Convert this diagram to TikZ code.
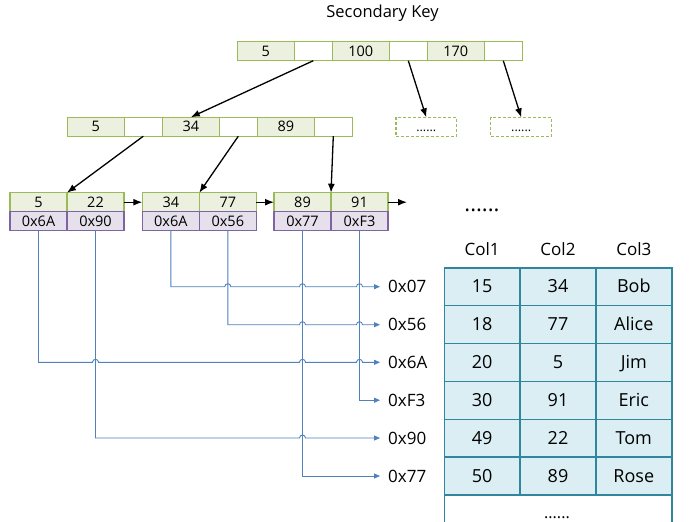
\documentclass[tikz,border=0pt]{standalone}
\usepackage{fontspec}
\setmainfont{Open Sans}
\usetikzlibrary{arrows.meta,calc}
\definecolor{kgreen}{HTML}{9BBB59}
\definecolor{kfill}{HTML}{EBF1DE}
\definecolor{ppl}{HTML}{8064A2}
\definecolor{pfill}{HTML}{E5E0EC}
\definecolor{bln}{HTML}{4F81BD}
\definecolor{tfill}{HTML}{DAEEF3}
\definecolor{tborder}{HTML}{31859C}
\newcommand{\fs}[1]{\fontsize{#1}{#1}\selectfont}
\begin{document}
\begin{tikzpicture}[x=1pt,y=1pt,
  cell/.style={draw=kgreen, line width=1.2pt, minimum height=19pt, inner sep=0pt, outer sep=0pt, anchor=west, font=\fs{14.5}},
  kcell/.style={cell, fill=kfill, minimum width=57pt},
  ecell/.style={cell, fill=white, minimum width=38pt},
  pcell/.style={cell, draw=ppl, fill=pfill, minimum width=57pt},
  dbox/.style={draw=kgreen, line width=1.1pt, densely dashed, minimum width=60.7pt, minimum height=18.7pt, inner sep=0pt, outer sep=0pt},
  tcell/.style={draw=tborder, fill=tfill, line width=1.6pt, minimum width=75.8pt, minimum height=37.9pt, inner sep=0pt, outer sep=0pt, text height=12.5pt, text depth=0pt, font=\fs{18}},
  hdr/.style={anchor=base, inner sep=0pt, font=\fs{17}},
  lab/.style={anchor=west, inner sep=0pt, font=\fs{17}},
  arr/.style={line width=1.3pt, -{Latex[length=9pt,width=7pt]}},
  bl/.style={draw=bln, line width=0.9pt, -{Triangle[length=6pt,width=5pt]}, shorten >=8pt},
]
\useasboundingbox (0,0) rectangle (691,-522);
\fill[white] (0,0) rectangle (691,-522);

% title
\node[anchor=base, inner sep=0pt, font=\fs{16.5}] (title) at (382.5,-17.3) {Secondary Key};

% root node
\node[kcell] (t1) at (237.3,-51.2) {5};
\node[ecell] (t2) at (t1.east) {};
\node[kcell] (t3) at (t2.east) {100};
\node[ecell] (t4) at (t3.east) {};
\node[kcell] (t5) at (t4.east) {170};
\node[ecell] (t6) at (t5.east) {};

% second level
\node[kcell] (m1) at (67.3,-126.7) {5};
\node[ecell] (m2) at (m1.east) {};
\node[kcell] (m3) at (m2.east) {34};
\node[ecell] (m4) at (m3.east) {};
\node[kcell] (m5) at (m4.east) {89};
\node[ecell] (m6) at (m5.east) {};

% dashed boxes
\node[dbox] (d1) at (426.3,-126.7) {};
\node[dbox] (d2) at (521.2,-126.7) {};
\node[anchor=base, inner sep=0pt, font=\fs{12.5}] (d1t) at (d1.center |- 0,-131) {......};
\node[anchor=base, inner sep=0pt, font=\fs{12.5}] (d2t) at (d2.center |- 0,-131) {......};

% leaves
\node[kcell] (l1t1) at (10,-202.2) {5};
\node[kcell] (l1t2) at (l1t1.east) {22};
\node[pcell] (l1b1) at (10,-221.2) {0x6A};
\node[pcell] (l1b2) at (l1b1.east) {0x90};

\node[kcell] (l2t1) at (142.3,-202.2) {34};
\node[kcell] (l2t2) at (l2t1.east) {77};
\node[pcell] (l2b1) at (142.3,-221.2) {0x6A};
\node[pcell] (l2b2) at (l2b1.east) {0x56};

\node[kcell] (l3t1) at (274,-202.2) {89};
\node[kcell] (l3t2) at (l3t1.east) {91};
\node[pcell] (l3b1) at (274,-221.2) {0x77};
\node[pcell] (l3b2) at (l3b1.east) {0xF3};

\coordinate (lend) at (407,-202.2);
\node[anchor=base, inner sep=0pt, font=\fs{22}] (mdots) at (482,-211.5) {......};

% black arrows
\draw[arr] (t2.south) -- (m3.north);
\draw[arr] (t4.south) -- (d1.north);
\draw[arr] (t6.south) -- (d2.north);
\draw[arr] (m2.south) -- (l1t1.north east);
\draw[arr] (m4.south) -- (l2t1.north east);
\draw[arr] (m6.south) -- (l3t1.north east);
\draw[arr] (l1t2.east) -- (l2t1.west);
\draw[arr] (l2t2.east) -- (l3t1.west);
\draw[arr] (l3t2.east) -- (lend);

% pointer labels
\node[lab] (p07) at (388,-286.7) {0x07};
\node[lab] (p56) at (388,-324.7) {0x56};
\node[lab] (p6A) at (388,-362.3) {0x6A};
\node[lab] (pF3) at (388,-400.2) {0xF3};
\node[lab] (p90) at (388,-438) {0x90};
\node[lab] (p77) at (388,-476) {0x77};

% blue connectors with hops
\draw[bl] (l2b1.south) |- ($(l2b2.south |- p07.west)-(3,0)$) arc[start angle=180,end angle=0,radius=3pt]
  -- ($(l3b1.south |- p07.west)-(3,0)$) arc[start angle=180,end angle=0,radius=3pt]
  -- ($(l3b2.south |- p07.west)-(3,0)$) arc[start angle=180,end angle=0,radius=3pt]
  -- (p07.west);
\draw[bl] (l2b2.south) |- ($(l3b1.south |- p56.west)-(3,0)$) arc[start angle=180,end angle=0,radius=3pt]
  -- ($(l3b2.south |- p56.west)-(3,0)$) arc[start angle=180,end angle=0,radius=3pt]
  -- (p56.west);
\draw[bl] (l1b1.south) |- ($(l1b2.south |- p6A.west)-(3,0)$) arc[start angle=180,end angle=0,radius=3pt]
  -- ($(l3b1.south |- p6A.west)-(3,0)$) arc[start angle=180,end angle=0,radius=3pt]
  -- ($(l3b2.south |- p6A.west)-(3,0)$) arc[start angle=180,end angle=0,radius=3pt]
  -- (p6A.west);
\draw[bl] (l3b2.south) |- (pF3.west);
\draw[bl] (l1b2.south) |- ($(l3b1.south |- p90.west)-(3,0)$) arc[start angle=180,end angle=0,radius=3pt]
  -- (p90.west);
\draw[bl] (l3b1.south) |- (p77.west);

% table
\node[hdr] (h1) at (482.2,-255) {Col1};
\node[hdr] (h2) at (558,-255) {Col2};
\node[hdr] (h3) at (633.8,-255) {Col3};
\foreach \r/\a/\b/\c in {1/15/34/Bob,2/18/77/Alice,3/20/5/Jim,4/30/91/Eric,5/49/22/Tom,6/50/89/Rose}{
  \node[tcell] (r\r c1) at (482.2,{-267.7-37.9*(\r-0.5)}) {\a};
  \node[tcell] (r\r c2) at (558,{-267.7-37.9*(\r-0.5)}) {\b};
  \node[tcell] (r\r c3) at (633.8,{-267.7-37.9*(\r-0.5)}) {\c};
}
\coordinate (bl1) at ($(r6c1.south west)+(0,-40)$);
\coordinate (br1) at ($(r6c3.south east)+(0,-40)$);
\draw[tborder, line width=1.6pt] (r6c1.south west) -- (bl1);
\draw[tborder, line width=1.6pt] (r6c3.south east) -- (br1);
\node[anchor=base, inner sep=0pt, font=\fs{16}] (bdots) at (557,-518) {......};
\end{tikzpicture}
\end{document}
